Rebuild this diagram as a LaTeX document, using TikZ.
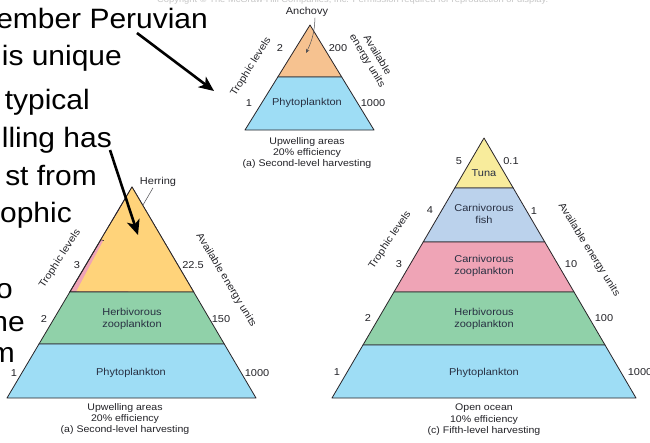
\documentclass[tikz,border=0pt]{standalone}
\usepackage{fontspec}
\setmainfont{Liberation Sans}
\newfontfamily\slidefont[FakeStretch=1.07]{Liberation Sans}
\newfontfamily\figfont[FakeStretch=1.1]{Liberation Sans}
\usetikzlibrary{calc,arrows.meta}

\definecolor{peach}{RGB}{246,194,144}
\definecolor{phyto}{RGB}{158,221,245}
\definecolor{herring}{RGB}{255,211,122}
\definecolor{pinkzoo}{RGB}{239,164,182}
\definecolor{herbgreen}{RGB}{144,209,169}
\definecolor{tuna}{RGB}{248,236,156}
\definecolor{fishblue}{RGB}{187,210,236}
\definecolor{edgecol}{RGB}{40,36,40}
\definecolor{labcol}{RGB}{35,35,40}
\definecolor{inlab}{RGB}{40,48,66}

\tikzset{
  layer/.style={draw=edgecol, line width=0.8pt, line join=round},
  lab/.style={font=\figfont\fontsize{10}{11}\selectfont, text=labcol, inner sep=0pt},
  inlabel/.style={lab, text=inlab, align=center, font=\figfont\fontsize{10}{11.5}\selectfont},
  captext/.style={lab, align=center, font=\figfont\fontsize{9.6}{11.4}\selectfont},
  slide/.style={font=\slidefont\fontsize{28}{32}\selectfont, text=black,
                anchor=base east, inner sep=0pt},
  bigarrow/.style={line width=2.6pt, -{Stealth[length=15pt,width=13pt,inset=4pt]}},
  pointer/.style={line width=0.5pt, draw=labcol!80},
}

\begin{document}
\begin{tikzpicture}[x=1pt,y=-1pt]
\useasboundingbox (0,0) rectangle (650,442);
\fill[white] (0,0) rectangle (650,442);
\clip (0,0) rectangle (650,442);

% copyright strip along the top edge
\node[anchor=base west, inner sep=0pt, text=gray!45,
      font=\figfont\fontsize{8.5}{9}\selectfont] (copy) at (157,2)
  {Copyright \textcopyright{} The McGraw-Hill Companies, Inc. Permission required for reproduction or display.};

% ---------------- slide text (left column) ----------------
\node[slide] (t1) at (208,28)  {ember Peruvian};
\node[slide] (t2) at (122,65)  {is unique};
\node[slide] (t3) at (90,109)  {typical};
\node[slide] (t4) at (112,147) {lling has};
\node[slide] (t5) at (97,185)  {st from};
\node[slide] (t6) at (72,222)  {ophic};
\node[slide] (t7) at (13,298)  {o};
\node[slide] (t8) at (25,331)  {ne};
\node[slide] (t9) at (15,362)  {m};

% ---------------- pyramid: upwelling, anchovy ----------------
\coordinate (Aapex) at (310,25);
\coordinate (Abl) at (245,130);
\coordinate (Abr) at (374,130);
\coordinate (Al1) at ($(Aapex)!0.495!(Abl)$);
\coordinate (Ar1) at ($(Aapex)!0.495!(Abr)$);
\filldraw[layer, fill=peach] (Aapex) -- (Ar1) -- (Al1) -- cycle;
\filldraw[layer, fill=phyto] (Al1) -- (Ar1) -- (Abr) -- (Abl) -- cycle;

\node[lab] (Aanch) at (307,12) {Anchovy};
\coordinate (Aanchtip) at (306,53);
\draw[pointer, -{Stealth[length=4pt,width=3.5pt]}] ($(Aanch.south)+(8,1)$) to[bend left=12] (Aanchtip);
\node[lab] (A2) at (280,48) {2};
\node[lab] (A200) at (338,48) {200};
\node[lab] (A1) at (249,103) {1};
\node[inlabel] (Aphyto) at (307,103) {Phytoplankton};
\node[lab] (A1000) at (373,103) {1000};
\node[lab, rotate=58] (Atroph) at (251,67) {Trophic levels};
\node[lab, rotate=-59, align=center, font=\figfont\fontsize{10}{11.5}\selectfont] (Aavail) at (372,58) {Available\\energy units};
\node[captext] (Acap) at (307,153) {Upwelling areas\\20\% efficiency\\(a) Second-level harvesting};

% ---------------- pyramid: upwelling, herring ----------------
\coordinate (Bapex) at (132,187);
\coordinate (Bbl) at (7,398);
\coordinate (Bbr) at (256,398);
\coordinate (Bl1) at ($(Bapex)!0.498!(Bbl)$);
\coordinate (Br1) at ($(Bapex)!0.498!(Bbr)$);
\coordinate (Bl2) at ($(Bapex)!0.744!(Bbl)$);
\coordinate (Br2) at ($(Bapex)!0.744!(Bbr)$);
\coordinate (Bk1) at ($(Bapex)!0.25!(Bbl)$);
\coordinate (Bk2) at ($(Bapex)!0.11!(Bbl)$);
\filldraw[layer, fill=pinkzoo] (Bapex) -- (Br1) -- (Bl1) -- cycle;
\fill[herring] (Bapex) -- (Br1) -- ($(Bl1)+(6.5,-0.6)$) -- ($(Bk1)+(3,0)$) -- (Bk1)
   -- ($(Bk2)+(1,0)$) -- cycle;
\draw[edgecol, line width=0.5pt] (Bk1) -- ++(3.2,0.8);
\draw[layer] (Bapex) -- (Br1) -- (Bl1) -- cycle;
\filldraw[layer, fill=herbgreen] (Bl1) -- (Br1) -- (Br2) -- (Bl2) -- cycle;
\filldraw[layer, fill=phyto] (Bl2) -- (Br2) -- (Bbr) -- (Bbl) -- cycle;

\node[lab] (Bherr) at (158,182) {Herring};
\draw[pointer] ($(Bherr.south)+(-5,1)$) -- (143,205);
\node[lab] (B3) at (77,265) {3};
\node[lab] (B225) at (193,265) {22.5};
\node[lab] (B2) at (44,319) {2};
\node[lab] (B150) at (221,319) {150};
\node[lab] (B1) at (14,373) {1};
\node[lab] (B1000) at (257,373) {1000};
\node[inlabel] (Bherb) at (132,319) {Herbivorous\\zooplankton};
\node[inlabel] (Bphyto) at (131,373) {Phytoplankton};
\node[lab, rotate=57] (Btroph) at (60,259) {Trophic levels};
\node[lab, rotate=-59] (Bavail) at (226,280) {Available energy units};
\node[captext] (Bcap) at (125,419) {Upwelling areas\\20\% efficiency\\(a) Second-level harvesting};

% ---------------- pyramid: open ocean ----------------
\coordinate (Capex) at (484,138);
\coordinate (Cbl) at (332,398);
\coordinate (Cbr) at (636,398);
\foreach \i/\t in {1/0.192, 2/0.4, 3/0.592, 4/0.796} {
  \coordinate (Cl\i) at ($(Capex)!\t!(Cbl)$);
  \coordinate (Cr\i) at ($(Capex)!\t!(Cbr)$);
}
\filldraw[layer, fill=tuna] (Capex) -- (Cr1) -- (Cl1) -- cycle;
\filldraw[layer, fill=fishblue] (Cl1) -- (Cr1) -- (Cr2) -- (Cl2) -- cycle;
\filldraw[layer, fill=pinkzoo] (Cl2) -- (Cr2) -- (Cr3) -- (Cl3) -- cycle;
\filldraw[layer, fill=herbgreen] (Cl3) -- (Cr3) -- (Cr4) -- (Cl4) -- cycle;
\filldraw[layer, fill=phyto] (Cl4) -- (Cr4) -- (Cbr) -- (Cbl) -- cycle;

\node[lab] (C5) at (459,161) {5};
\node[lab] (C01) at (511,161) {0.1};
\node[inlabel] (Ctuna) at (484,173) {Tuna};
\node[lab] (C4) at (430,210) {4};
\node[lab] (C1a) at (534,211) {1};
\node[inlabel] (Cfish) at (484,214) {Carnivorous\\fish};
\node[lab] (C3) at (399,264) {3};
\node[lab] (C10) at (571,264) {10};
\node[inlabel] (Ccarn) at (484,266) {Carnivorous\\zooplankton};
\node[lab] (C2) at (368,318) {2};
\node[lab] (C100) at (604,318) {100};
\node[inlabel] (Cherb) at (484,319) {Herbivorous\\zooplankton};
\node[lab] (C1b) at (337,372) {1};
\node[lab] (C1000) at (640,372) {1000};
\node[inlabel] (Cphyto) at (484,373) {Phytoplankton};
\node[lab, rotate=56] (Ctroph) at (390,240) {Trophic levels};
\node[lab, rotate=-58] (Cavail) at (589,250) {Available energy units};
\node[captext] (Ccap) at (484,420) {Open ocean\\10\% efficiency\\(c) Fifth-level harvesting};

% ---------------- pointing arrows ----------------
\coordinate (arA0) at (137,33);
\coordinate (arA1) at (214,91);
\coordinate (arB0) at (110,150);
\coordinate (arB1) at (138,235);
\draw[bigarrow] (arA0) -- (arA1);
\draw[bigarrow] (arB0) -- (arB1);
\end{tikzpicture}
\end{document}
